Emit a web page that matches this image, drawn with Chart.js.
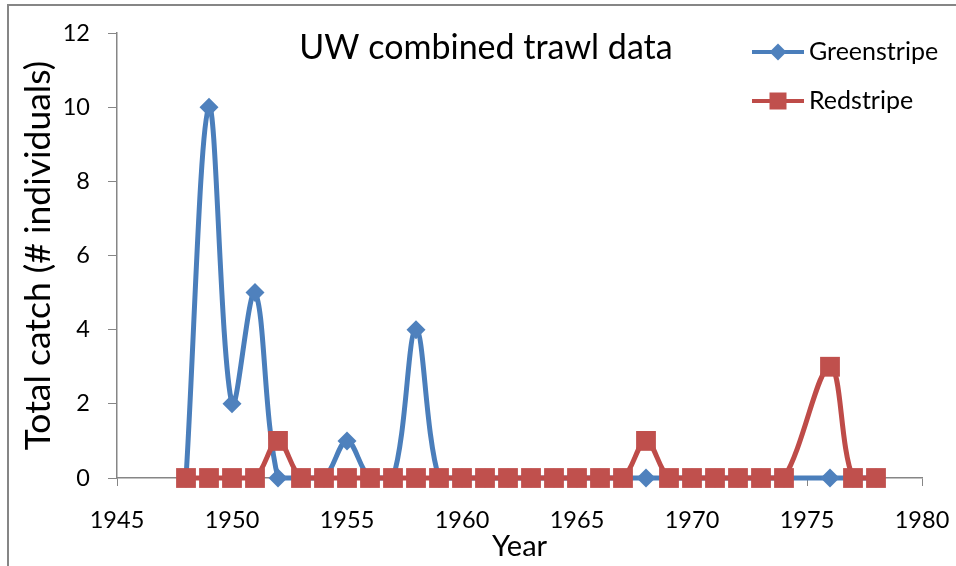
<!DOCTYPE html>
<html>
<head>
<meta charset="utf-8">
<title>UW combined trawl data</title>
<script src="https://cdn.jsdelivr.net/npm/chart.js@4/dist/chart.umd.min.js"></script>
<style>
    html, body { margin: 0; padding: 0; background: #fff; }
    #trawlChart { display: block; }
</style>
</head>
<body>
<canvas id="trawlChart" width="956" height="566"></canvas>
<script>
// --- DATOS ---
// 1975 has no survey, so it is simply left out of the list
const YEARS = [1948, 1949, 1950, 1951, 1952, 1953, 1954, 1955, 1956, 1957,
               1958, 1959, 1960, 1961, 1962, 1963, 1964, 1965, 1966, 1967,
               1968, 1969, 1970, 1971, 1972, 1973, 1974, 1976, 1977, 1978];
const GREENSTRIPE = [0, 10, 2, 5, 0, 0, 0, 1, 0, 0,
                     4, 0, 0, 0, 0, 0, 0, 0, 0, 0,
                     0, 0, 0, 0, 0, 0, 0, 0, 0, 0];
const REDSTRIPE = [0, 0, 0, 0, 1, 0, 0, 0, 0, 0,
                   0, 0, 0, 0, 0, 0, 0, 0, 0, 0,
                   1, 0, 0, 0, 0, 0, 0, 3, 0, 0];
const X_TICKS = [1945, 1950, 1955, 1960, 1965, 1970, 1975, 1980];
const Y_TICKS = [0, 2, 4, 6, 8, 10, 12];

const FONT = 'Lato, "Open Sans", sans-serif';
const AXIS_GREY = '#868686';
const BLUE_LINE = '#4A7EBB', BLUE_MARK = '#4F81BD';
const RED_LINE = '#BE4B48', RED_MARK = '#C0504D';

const toPoints = (vals) => vals.map((v, i) => ({ x: YEARS[i], y: v }));

// --- MARCADORES ---
function drawMarker(ctx, shape, x, y, r, color) {
    ctx.fillStyle = color;
    ctx.beginPath();
    if (shape === 'rectRot') {
        ctx.moveTo(x - r, y);
        ctx.lineTo(x, y - r);
        ctx.lineTo(x + r, y);
        ctx.lineTo(x, y + r);
    } else {
        ctx.rect(x - r, y - r, 2 * r, 2 * r);
    }
    ctx.closePath();
    ctx.fill();
}

// frame, title and legend sit on top of the plot area
const decorPlugin = {
    id: 'decor',
    beforeDraw(chart) {
        const ctx = chart.ctx;
        ctx.save();
        ctx.strokeStyle = AXIS_GREY;
        ctx.lineWidth = 2;
        ctx.beginPath();
        ctx.moveTo(8, chart.height);
        ctx.lineTo(8, 5);
        ctx.lineTo(chart.width, 5);
        ctx.stroke();
        ctx.restore();
    },
    afterDraw(chart) {
        const ctx = chart.ctx;
        ctx.save();
        ctx.fillStyle = '#000';
        ctx.textBaseline = 'middle';
        ctx.textAlign = 'center';
        ctx.font = '34px ' + FONT;
        ctx.fillText('UW combined trawl data', 486, 48);

        const items = [
            { label: 'Greenstripe', line: BLUE_LINE, mark: BLUE_MARK, shape: 'rectRot', r: 8.5, y: 52 },
            { label: 'Redstripe', line: RED_LINE, mark: RED_MARK, shape: 'rect', r: 8.5, y: 101 }
        ];
        ctx.textAlign = 'left';
        ctx.font = '25px ' + FONT;
        items.forEach(it => {
            ctx.strokeStyle = it.line;
            ctx.lineWidth = 4;
            ctx.beginPath();
            ctx.moveTo(752, it.y);
            ctx.lineTo(804, it.y);
            ctx.stroke();
            drawMarker(ctx, it.shape, 778, it.y, it.r, it.mark);
            ctx.fillStyle = '#000';
            ctx.fillText(it.label, 809, it.y);
        });
        ctx.restore();
    }
};

// --- GRÁFICO ---
const chart = new Chart(document.getElementById('trawlChart'), {
    type: 'line',
    data: {
        datasets: [
            {
                label: 'Greenstripe',
                data: toPoints(GREENSTRIPE),
                borderColor: BLUE_LINE,
                backgroundColor: BLUE_MARK,
                borderWidth: 5,
                pointStyle: 'rectRot',
                pointRadius: 9.5,
                pointBorderWidth: 0,
                tension: 0.35,
                order: 1
            },
            {
                label: 'Redstripe',
                data: toPoints(REDSTRIPE),
                borderColor: RED_LINE,
                backgroundColor: RED_MARK,
                borderWidth: 5,
                pointStyle: 'rect',
                pointRadius: 14,
                pointBorderWidth: 0,
                tension: 0.35,
                order: 0
            }
        ]
    },
    options: {
        responsive: false,
        animation: false,
        clip: false,
        layout: { padding: { left: 8, top: 33, right: 34, bottom: 0 } },
        plugins: {
            legend: { display: false },
            title: { display: false },
            tooltip: { enabled: false }
        },
        scales: {
            x: {
                type: 'linear',
                min: X_TICKS[0],
                max: X_TICKS[X_TICKS.length - 1],
                afterBuildTicks: (s) => { s.ticks = X_TICKS.map(v => ({ value: v })); },
                afterFit: (s) => { s.height = 88; s.paddingLeft = 0; s.paddingRight = 0; },
                grid: { drawOnChartArea: false, drawTicks: true, tickLength: 8, color: AXIS_GREY },
                border: { color: AXIS_GREY, width: 1.5 },
                ticks: {
                    color: '#000', font: { family: FONT, size: 23.5 }, padding: 20, maxRotation: 0,
                    callback: (v) => String(v)
                },
                title: {
                    display: true, text: 'Year', color: '#000',
                    font: { family: FONT, size: 29 }, padding: { top: 0, bottom: 2 }
                }
            },
            y: {
                min: Y_TICKS[0],
                max: Y_TICKS[Y_TICKS.length - 1],
                afterBuildTicks: (s) => { s.ticks = Y_TICKS.map(v => ({ value: v })); },
                afterFit: (s) => { s.width = 109; },
                grid: { drawOnChartArea: false, drawTicks: true, tickLength: 9, color: AXIS_GREY },
                border: { color: AXIS_GREY, width: 1.5 },
                ticks: { color: '#000', font: { family: FONT, size: 23.5 }, padding: 18 },
                title: {
                    display: true, text: 'Total catch (# individuals)', color: '#000',
                    font: { family: FONT, size: 35.5 }, padding: { top: 9, bottom: 0 }
                }
            }
        }
    },
    plugins: [decorPlugin]
});
</script>
</body>
</html>
